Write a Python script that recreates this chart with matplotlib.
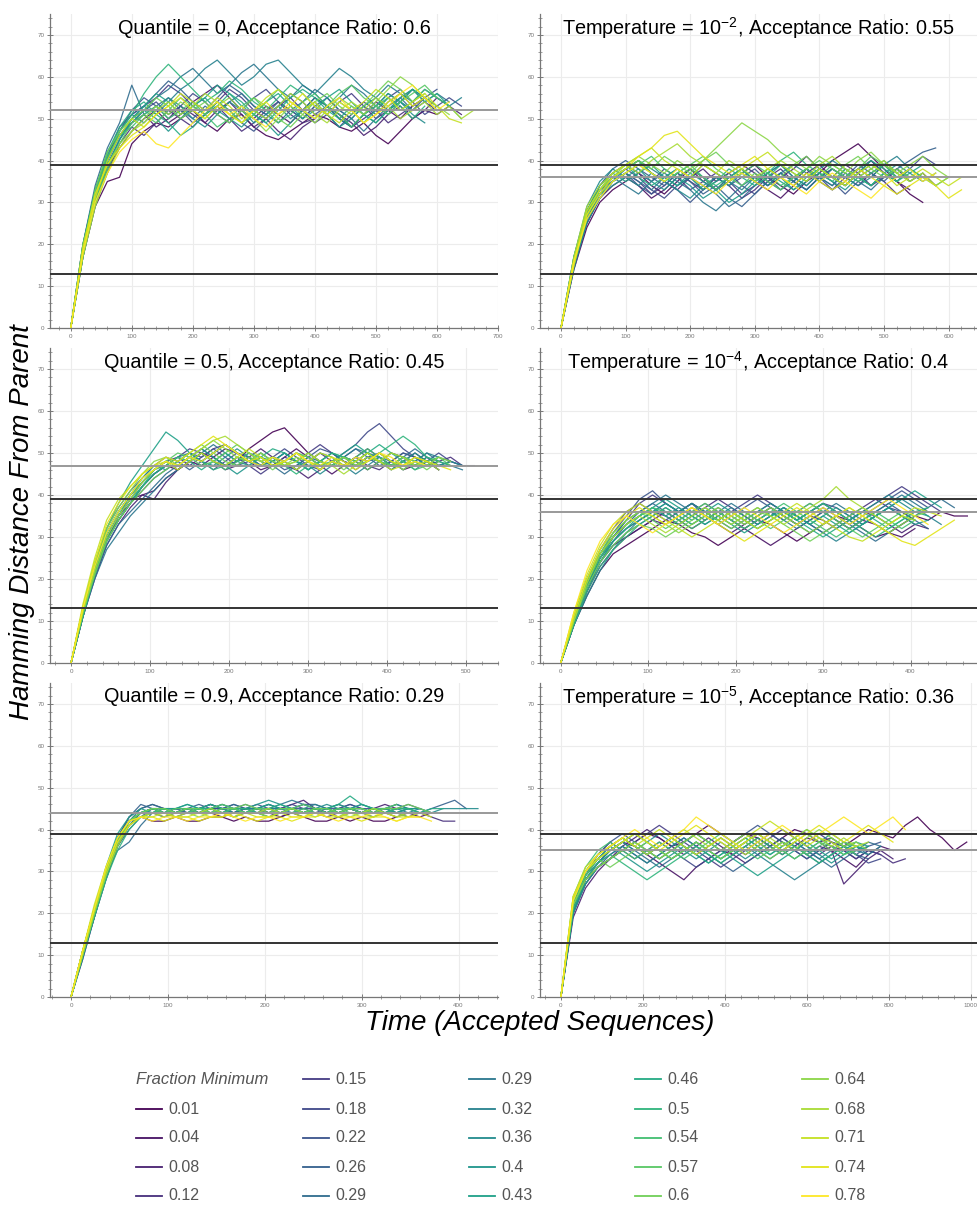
import numpy as np
import matplotlib.pyplot as plt
from matplotlib.ticker import MultipleLocator, AutoMinorLocator
from matplotlib.lines import Line2D

plt.rcParams['font.family'] = ['Liberation Sans', 'DejaVu Sans']
plt.rcParams['mathtext.default'] = 'regular'

# legend labels, one per run (24 runs per panel)
fractions = ['0.01', '0.04', '0.08', '0.12', '0.15', '0.18', '0.22', '0.26',
             '0.29', '0.29', '0.32', '0.36', '0.4', '0.43', '0.46', '0.5',
             '0.54', '0.57', '0.6', '0.64', '0.68', '0.71', '0.74', '0.78']

# hamming distance sampled every 20 accepted sequences
quantile_0 = [
    [0,17,29,35,36,44,47,49,48,50,52,49,47,50,51,48,46,45,47,49,51,50,48,47,49,46,44,47,50,52,51,53],
    [0,18,31,38,43,47,50,52,49,51,54,56,58,55,52,50,53,51,49,52,55,53,50,48,51,54,52,50,53,55],
    [0,19,32,40,46,49,51,48,50,53,51,49,52,54,51,48,50,47,45,48,50,53,51,49,46,48,51,53,50,52,55,53,51],
    [0,18,30,37,44,48,46,49,52,50,48,51,53,50,47,49,52,54,51,49,50,53,51,48,50,52,49,51,53],
    [0,20,33,41,47,51,53,55,58,56,53,51,54,57,55,52,50,53,55,52,49,51,54,56,53,50,52,55,57,54,52],
    [0,17,30,39,45,50,52,54,51,53,56,54,51,49,52,55,57,54,52,50,53,51,48,51,54,52,55,57,54,51,53,55,53],
    [0,19,31,40,47,52,55,53,50,52,49,51,54,52,49,47,50,53,56,54,51,53,50,48,51,53,56,54,52,55,57],
    [0,18,32,41,48,51,53,56,59,57,54,52,55,58,56,53,51,54,52,50,53,55,52,50,53,51,54,56,53,55],
    [0,20,34,43,49,58,51,53,55,52,50,53,51,54,56,53,51,49,52,54,57,55,52,50,47,50,53,55,52,54,56,54],
    [0,17,29,38,45,49,52,55,57,60,62,59,56,58,61,63,60,57,55,58,56,53,55,58,56,53,51,54,57,55,53],
    [0,19,31,40,46,50,53,51,54,57,59,62,64,61,58,60,63,64,61,58,56,59,62,60,57,55,58,56,54,57,55,53,55],
    [0,18,32,42,47,51,49,52,55,53,50,48,51,54,52,49,51,53,50,52,55,53,50,48,51,49,52,54,51,49],
    [0,19,33,41,46,49,52,50,47,50,53,55,52,50,48,51,49,46,49,52,54,51,48,50,53,55,52,54,57,55,52],
    [0,18,30,39,45,50,53,56,54,51,53,55,58,56,53,51,54,56,53,50,52,55,57,54,51,53,56,54,52],
    [0,20,33,42,48,52,54,51,49,46,48,51,53,56,54,51,49,52,55,57,55,52,50,53,51,49,52,55,57,54,56,53],
    [0,17,31,40,47,51,56,60,63,60,57,54,56,59,57,54,52,55,58,56,53,51,54,52,49,52,55,53,50,53],
    [0,19,32,41,46,48,51,53,50,52,54,51,48,50,53,55,52,49,51,54,56,53,51,48,51,53,55,52,54,57,55,53,50],
    [0,18,30,38,44,49,51,49,52,55,53,51,54,52,49,51,54,57,54,52,50,53,56,58,55,53,51,54,56,58,55],
    [0,19,33,42,47,50,52,55,53,50,52,54,51,49,52,55,53,50,48,51,54,56,53,51,53,56,59,57,54,56],
    [0,20,31,39,44,47,50,53,51,54,52,50,53,55,52,50,47,50,53,51,49,52,55,53,51,54,57,60,58,55,53,51],
    [0,17,29,37,43,47,49,52,54,51,53,56,54,51,49,52,50,53,56,54,51,49,52,54,52,55,53,50,52,54,51,53,50,52],
    [0,18,31,40,46,50,48,51,53,56,54,52,55,53,50,52,55,57,54,52,54,51,49,52,54,57,55,52,54,56,53,50,49],
    [0,19,32,39,43,46,48,51,53,55,52,50,53,51,49,52,54,51,53,56,53,51,54,52,49,51,54,56,53,55,52],
    [0,18,30,37,42,45,47,44,43,46,49,52,54,51,53,50,48,51,54,52,50,53,55,52,49,51,53,56,58,55,52,54],
]

# sampled every 20
temp_1e2 = [
    [0,14,24,30,33,35,37,34,32,35,38,36,33,35,37,39,36,34,32,35,37,40,42,44,41,38,35,32,30],
    [0,15,25,31,34,36,34,31,33,36,38,35,33,36,38,35,33,31,34,37,39,36,34,37,40,37,35,33],
    [0,16,27,33,36,38,40,37,35,33,36,38,35,37,39,37,34,36,38,41,38,36,39,37,34,36,38,35,37,34],
    [0,15,26,31,35,37,35,32,34,37,35,33,36,34,31,33,36,38,35,33,36,38,36,34,37,35,32,34],
    [0,16,28,34,37,39,37,35,38,36,33,35,37,35,32,34,37,39,36,38,35,33,36,38,36,39,37],
    [0,15,26,32,36,38,36,33,31,34,36,33,35,37,34,32,35,37,35,38,36,33,35,38,40,37,35,38,41,39],
    [0,17,28,33,35,37,34,32,35,33,30,33,36,34,36,38,35,33,36,34,37,35,32,35,37,39,36,38],
    [0,16,27,34,38,40,38,36,34,37,35,32,34,31,29,32,35,37,35,33,36,38,36,39,37,35,38,40,42,43],
    [0,14,25,31,35,37,35,33,36,38,36,34,32,29,31,34,36,33,35,38,36,34,37,35,33,36,38,36],
    [0,16,27,32,36,34,32,35,37,35,33,30,28,31,34,36,34,37,35,33,36,34,38,36,34,37,35],
    [0,15,25,31,35,38,40,38,36,34,36,39,37,35,33,36,34,37,39,37,35,38,36,34,36,39,41,38,36],
    [0,17,29,35,38,36,34,37,35,33,31,34,36,34,37,35,38,36,33,35,38,40,38,36,34,37,39,37,35,37],
    [0,16,26,32,34,36,38,35,33,36,34,31,33,36,38,35,37,39,36,34,37,35,33,36,38,40,37],
    [0,15,27,33,37,35,37,39,36,34,37,35,33,30,32,35,37,35,33,36,38,36,34,37,39,37,35,37,39],
    [0,16,28,34,37,39,36,34,36,38,36,33,35,38,36,34,36,39,37,35,38,36,34,37,40,38,36,38],
    [0,17,28,33,36,38,40,37,35,37,39,36,34,36,38,35,37,40,42,39,37,35,38,36,34,37,35,38,36,34,36],
    [0,15,26,31,35,37,39,41,38,36,38,36,33,35,37,39,37,34,36,38,36,39,37,35,37,39,36],
    [0,16,27,32,35,37,39,37,35,37,39,41,38,36,34,37,35,33,36,38,40,38,36,38,41,39,37,35,37],
    [0,15,28,33,36,38,40,38,41,39,37,40,42,39,37,35,38,36,39,41,38,36,39,41,38,36,38,36],
    [0,16,27,33,36,39,41,39,37,40,38,40,43,46,49,47,45,42,40,38,41,39,37,40,42,39,37,39,41,38,36],
    [0,17,29,34,37,39,37,40,42,44,41,39,37,40,38,36,38,40,38,36,39,41,38,36,38,40,37,35,37,34,36],
    [0,16,28,33,37,39,41,43,40,38,36,39,37,35,38,40,42,39,37,35,38,36,34,37,39,37,34,36,38,36,34,36],
    [0,15,27,32,36,38,41,43,46,47,44,41,39,37,39,41,38,36,34,37,35,33,35,38,36,34,32,34,36,34,31,33],
    [0,16,26,31,35,37,39,37,35,38,36,34,32,35,37,35,33,36,34,32,35,37,35,33,31,34,36,38,35,37],
]

# sampled every 15
quantile_05 = [
    [0,11,21,29,34,38,42,45,47,46,48,50,49,47,48,51,53,55,56,53,50,48,47,49,48,46,48,50,49,47,48,46],
    [0,12,22,30,35,39,40,41,44,46,48,47,49,51,50,48,46,47,49,51,49,47,45,47,49,48,50,48,46,47,49,47,48],
    [0,11,20,28,33,37,40,39,43,46,48,50,48,46,47,49,51,49,47,46,44,46,48,47,49,51,49,47,48,50,48],
    [0,13,23,31,36,40,43,46,48,49,47,49,51,52,50,48,47,49,48,46,48,50,48,47,49,47,46,48,50,49,47,48,49,47],
    [0,12,22,30,34,38,42,45,47,49,51,50,48,47,49,47,45,47,49,48,50,52,50,48,47,49,48,46,48,47],
    [0,12,21,29,35,39,43,46,48,47,49,48,46,48,50,49,47,49,51,49,47,46,48,50,52,55,57,54,51,49,48,50,48,47,47],
    [0,11,22,30,35,38,41,44,46,48,50,49,51,49,47,48,50,48,46,47,49,51,50,48,47,49,50,48,47,49,48,46],
    [0,13,23,32,37,41,44,47,49,48,46,48,50,52,50,48,49,47,48,50,48,46,48,49,51,49,47,48,50,49,47,48],
    [0,12,21,28,33,36,39,42,45,47,49,51,49,47,48,50,48,47,45,47,49,48,50,48,46,48,49,47,49,51,49,47,48,47],
    [0,11,20,27,31,35,38,41,44,46,48,50,52,50,48,49,47,48,50,48,46,48,47,49,51,50,48,47,49,48,50,48,47,46],
    [0,12,22,29,34,38,42,45,47,49,50,48,50,52,50,48,47,49,48,46,48,50,49,47,45,47,49,48,46,48,50,49,48,47],
    [0,11,21,30,35,40,44,47,46,48,50,48,47,49,51,49,47,48,50,48,47,45,47,49,48,50,49,47,48,46,48],
    [0,12,23,31,36,40,43,46,48,47,49,51,49,47,45,47,49,48,50,48,46,48,50,49,47,49,48,46,48,50,48,47,48],
    [0,13,24,32,38,43,47,51,55,53,50,48,50,52,50,48,49,47,48,50,49,47,48,50,52,50,48,47,49,48,47,49],
    [0,12,22,30,35,39,42,45,47,49,48,46,48,50,48,47,49,51,50,48,46,48,47,49,48,50,52,50,48,47,49,48],
    [0,11,21,29,34,38,42,46,48,47,49,48,46,47,49,48,50,48,47,45,47,48,50,49,47,48,50,52,54,52,49,48,47],
    [0,12,22,31,36,40,43,46,47,49,48,50,48,46,48,50,49,47,48,50,48,46,48,47,49,51,49,47,48,46,47],
    [0,13,23,31,36,40,44,46,48,50,49,47,48,50,52,50,48,49,47,48,50,48,47,49,48,46,48,50,49,47,48,49,47],
    [0,12,21,29,34,38,41,44,46,48,50,52,50,48,47,49,48,46,48,50,49,47,48,46,48,50,48,47,49,48,46,48],
    [0,13,24,32,37,41,45,48,49,47,49,51,53,51,49,48,50,48,47,49,48,46,48,49,47,48,50,48,46,48,47,49,48],
    [0,12,22,30,35,39,43,46,48,47,49,51,53,54,52,50,48,49,47,48,50,48,47,45,47,49,48,50,49,47,48,46],
    [0,14,25,34,39,42,45,47,48,46,48,50,48,47,49,51,49,47,48,46,48,50,49,47,48,50,48,46,47,49,48],
    [0,13,24,33,38,42,45,47,49,48,50,52,54,52,50,48,49,47,48,50,48,47,49,48,46,48,50,48,47,49,48,47,46],
    [0,13,23,31,36,40,44,46,48,47,49,48,50,52,50,48,47,49,48,50,48,46,48,47,49,48,50,49,47,48,47],
]

# sampled every 15
temp_1e4 = [
    [0,9,16,22,26,28,30,32,34,33,31,30,28,30,32,34,33,31,29,31,33,35,34,32,30,31,33,35,34,36,35,35],
    [0,10,18,24,28,30,32,34,36,34,32,34,36,34,32,30,28,30,32,34,36,34,32,34,33,31,30,32],
    [0,9,17,23,27,30,32,34,33,35,37,35,33,31,33,35,37,35,33,35,34,32,34,36,35,33,31,33,32],
    [0,11,19,25,29,32,34,36,35,33,35,37,39,37,35,33,35,37,35,33,31,33,35,37,39,37,35,33],
    [0,10,18,25,30,34,38,40,38,36,38,36,34,36,38,40,38,36,34,36,38,36,34,36,38,40,42,40,38,36],
    [0,11,20,27,32,36,38,36,34,36,38,36,34,32,34,36,38,36,34,36,38,37,35,33,35,37,36,34],
    [0,10,19,26,31,35,39,41,38,36,38,35,33,35,37,39,37,35,33,35,37,35,33,35,37,39,41,39,37],
    [0,9,17,24,29,33,36,38,36,34,36,38,36,34,32,34,36,34,36,38,36,34,32,34,36,38,36,34,32],
    [0,10,18,24,28,31,33,35,37,35,33,35,37,35,33,35,37,35,33,31,33,35,33,31,29,31,33,35,37,39,37],
    [0,11,20,26,30,34,36,38,40,38,36,34,36,38,36,34,36,34,32,34,36,38,36,34,36,38,40,38,36],
    [0,10,18,25,30,33,35,37,35,37,35,33,35,37,35,33,35,37,35,33,31,29,31,33,35,37,39,37,35,33],
    [0,9,16,22,27,31,34,36,38,36,38,36,34,36,34,36,38,36,34,36,38,36,34,36,38,40,38,36],
    [0,10,19,25,29,32,34,36,38,36,34,36,38,36,34,32,34,36,35,33,35,37,35,33,35,37,35,33,34],
    [0,11,19,26,30,33,35,37,39,37,35,33,35,33,31,33,35,37,35,33,35,33,31,33,35,37,39,41,39,37],
    [0,10,18,24,29,32,35,37,35,33,35,37,35,33,35,37,35,36,34,32,30,32,34,36,34,32,34,36,35],
    [0,9,17,23,27,30,33,35,37,35,33,35,34,36,34,32,34,36,34,36,38,36,34,32,30,32,34,36,37],
    [0,10,19,25,30,33,35,37,36,34,32,34,36,34,32,34,36,38,36,34,32,30,32,34,36,34,32,34],
    [0,11,20,26,31,34,36,34,32,34,36,38,36,34,36,34,32,34,36,38,36,34,32,30,32,34,36,35],
    [0,10,18,24,28,31,33,32,30,32,34,36,34,32,34,36,35,33,31,29,31,33,35,37,35,33,35,34],
    [0,11,20,27,31,34,36,35,33,31,33,35,37,35,33,35,37,35,33,31,33,35,37,35,33,31,33,35,36],
    [0,10,19,26,30,33,35,33,31,33,35,37,35,33,35,37,35,33,35,37,39,42,39,37,35,33,35,34],
    [0,12,21,28,33,36,38,36,34,32,30,32,34,36,34,32,34,36,38,36,34,32,30,29,31,33,35,37,36,35],
    [0,11,20,27,32,35,37,35,33,35,37,35,33,31,29,31,33,35,37,35,33,35,37,35,33,31,29,28,30,32,34],
    [0,12,22,29,33,35,33,31,33,35,37,35,33,35,37,35,33,31,33,35,37,35,33,35,37,39,37,35,33],
]

# sampled every 12
quantile_09 = [
    [0,10,19,29,37,42,43,42,42,43,42,42,43,43,42,43,42,42,43,44,43,42,42,43,42,43,42,42,43],
    [0,10,20,30,38,42,44,44,43,44,45,44,44,43,44,45,45,44,43,44,44,45,44,43,44,44,45,44,43,44,43,44],
    [0,11,21,30,38,43,45,46,45,45,44,45,46,45,44,45,45,44,45,46,47,45,44,45,45,44,45,46,45],
    [0,9,19,28,36,41,43,44,44,43,44,44,45,44,43,44,44,43,44,45,44,44,43,44,45,44,43,44,44,43,44,43,42,42],
    [0,10,20,29,37,42,44,45,45,44,45,45,46,45,45,44,45,46,45,45,44,45,45,46,45,44,45,45,44,45],
    [0,10,20,30,37,41,44,45,44,45,45,44,45,45,46,45,44,45,45,46,45,45,44,45,46,45,45,44,45,46,45,44],
    [0,10,19,29,36,40,43,45,44,44,45,44,45,45,44,45,46,45,44,45,45,44,45,45,46,45,44,45,45],
    [0,11,20,30,38,43,46,45,45,44,45,46,45,44,45,46,45,45,44,45,46,46,45,44,45,45,44,45,46,45,44,45,46,47,45],
    [0,10,20,29,35,37,41,44,45,44,45,45,44,45,46,45,45,44,45,45,46,45,44,45,45,44,45,45],
    [0,10,20,30,37,42,45,46,45,45,44,45,45,46,45,44,45,45,46,47,46,45,44,45,45,46,45,44,45,45],
    [0,9,19,28,36,41,44,45,44,45,45,44,45,46,45,45,44,45,45,44,45,46,45,44,45,45,44,45,45,44,45],
    [0,10,20,30,37,42,44,45,45,44,45,45,46,45,44,45,45,46,45,45,44,45,46,45,45,44,45,45,46,45,45,44,45,45,45,45],
    [0,10,20,29,37,42,44,45,44,45,46,45,45,44,45,45,46,47,46,45,44,45,45,44,45,46,45,45,44,45,45],
    [0,11,21,31,39,43,45,44,45,45,46,45,44,45,45,44,45,46,45,45,44,45,45,46,45,44,45,45,44,45],
    [0,10,20,29,37,42,44,45,45,44,45,45,46,45,45,44,45,45,46,45,44,45,45,46,48,46,45,44,45,45,44,45,45],
    [0,10,19,28,35,40,43,44,45,44,44,45,45,44,45,45,44,44,45,45,44,45,45,44,45,45,44,44,45,45,44],
    [0,11,21,30,38,42,44,44,45,44,44,45,44,44,45,44,44,43,44,44,45,44,44,45,44,44,45,44],
    [0,10,20,29,37,42,44,45,44,45,45,44,45,46,45,44,45,45,44,45,46,45,44,45,45,44,45,45,46],
    [0,10,20,30,37,42,44,45,45,44,45,45,44,45,45,46,45,44,45,45,44,45,45,44,45,45,44,45,45,46,45,44],
    [0,11,21,30,37,41,43,44,43,44,44,43,44,44,43,44,44,43,44,45,44,43,44,44,43,44,43,44,44,43],
    [0,10,20,29,36,41,43,44,44,43,44,44,45,44,43,44,44,45,44,44,43,44,44,43,44,44,45,44,43,44,44],
    [0,11,22,31,38,42,43,43,44,43,43,44,43,43,44,44,43,43,44,43,43,44,43,43,44,43,43,44,43,43,44,43],
    [0,11,21,30,37,41,43,43,42,43,43,42,43,43,44,43,42,43,43,42,43,43,44,43,43,42,43,43,42,43,43],
    [0,11,21,31,38,42,43,42,43,43,42,43,43,44,43,42,43,43,42,43,43,44,43,42,43,43,44,43,42,43,43,42],
]

# sampled every 30
temp_1e5 = [
    [0,20,27,31,33,35,37,39,38,36,37,39,41,39,37,39,38,36,38,40,39,37,38,36,38,40,39,38,41,43,40,38,35,37],
    [0,21,28,32,35,37,36,34,32,30,28,31,33,35,34,36,38,36,34,36,38,37,35,33,31,34,36,35],
    [0,19,26,30,33,36,38,40,38,36,34,36,38,36,34,32,34,36,38,36,34,36,35,27,30,33,35,33],
    [0,22,29,33,36,38,36,34,36,38,36,34,36,38,36,34,36,38,40,38,36,34,36,35,33,35,34,32,33],
    [0,21,28,31,33,35,37,39,41,39,37,35,33,31,33,35,37,39,37,35,37,39,37,35,33,35,34],
    [0,20,29,34,37,35,33,35,37,35,33,31,33,35,37,39,37,35,37,35,33,35,37,36,34,32,33],
    [0,22,30,34,37,39,37,35,33,35,37,39,37,35,37,39,41,39,37,35,33,35,37,36,34,36,37],
    [0,21,27,31,34,36,34,32,34,36,38,36,34,32,30,32,34,36,38,36,34,32,34,36,34,33],
    [0,20,28,32,35,37,35,33,31,33,35,37,35,33,35,37,35,33,35,37,35,33,31,33,35,37,36],
    [0,23,30,33,35,37,39,37,35,33,35,37,35,33,35,37,39,37,35,37,35,33,35,37,36,34],
    [0,22,29,32,34,36,34,32,34,36,38,36,34,32,34,36,34,32,30,28,30,32,34,36,35,34,36],
    [0,21,28,32,35,37,35,37,39,37,35,33,35,37,35,33,35,37,35,33,35,37,39,37,35,36],
    [0,23,30,34,36,34,32,30,32,34,36,34,32,34,36,38,36,34,36,38,36,34,32,34,36,35],
    [0,20,27,31,33,35,37,35,33,35,37,39,37,35,33,31,29,31,33,35,37,35,33,35,37,36],
    [0,22,29,33,36,38,36,34,36,38,36,34,32,34,36,38,36,34,36,38,40,38,36,34,36,35],
    [0,21,28,32,34,32,30,28,30,32,34,36,34,32,34,36,38,36,34,36,34,32,34,36,37],
    [0,24,31,35,37,35,33,35,37,35,33,35,37,39,37,35,33,35,37,36,34,36,38,36,34],
    [0,22,29,33,35,37,39,37,35,33,35,37,35,33,35,37,39,37,35,33,35,37,36,34,35],
    [0,23,30,33,31,33,35,37,35,33,35,37,35,33,35,37,35,33,35,37,39,37,35,37,36],
    [0,22,28,31,33,35,37,35,33,35,37,39,37,35,37,39,37,35,37,35,38,40,38,36,37,35],
    [0,23,30,34,36,38,36,34,36,38,40,38,36,38,36,34,36,38,36,38,40,38,36,38,36,37],
    [0,24,31,34,36,38,36,38,40,38,36,34,36,38,36,38,40,42,40,38,36,38,37,35,36],
    [0,24,30,33,35,37,39,37,35,37,39,41,39,37,35,37,39,37,35,37,39,41,39,37,39,41,39,37],
    [0,23,30,34,36,38,40,38,36,38,40,43,41,39,37,35,37,39,41,39,37,39,41,43,41,39,41,43,40],
]

titles = ['Quantile = 0, Acceptance Ratio: 0.6',
          'Temperature = 10$^{-2}$, Acceptance Ratio: 0.55',
          'Quantile = 0.5, Acceptance Ratio: 0.45',
          'Temperature = 10$^{-4}$, Acceptance Ratio: 0.4',
          'Quantile = 0.9, Acceptance Ratio: 0.29',
          'Temperature = 10$^{-5}$, Acceptance Ratio: 0.36']
runs = [quantile_0, temp_1e2, quantile_05, temp_1e4, quantile_09, temp_1e5]
steps = [20, 20, 15, 15, 12, 30]
plateau = [52, 36, 47, 36, 44, 35]
thresholds = [13, 39]

W, H = 977, 1205
fig = plt.figure(figsize=(W / 100, H / 100), dpi=100)

# panel boxes in pixels: left, top, right, bottom
cols = [(50, 498), (540, 977)]
rows = [(14, 328), (348, 663), (683, 997)]
xlims = [(-34, 700), (-32.5, 644), (-26.6, 540), (-23.7, 476), (-21.7, 440.7), (-51, 1015)]
xmajor = [100, 100, 100, 100, 100, 200]

colors = plt.cm.viridis(np.linspace(0, 1, len(fractions)))

for k in range(6):
    l, r = cols[k % 2]
    t, b = rows[k // 2]
    ax = fig.add_axes([l / W, 1 - b / H, (r - l) / W, (b - t) / H])
    for i, vals in enumerate(runs[k]):
        x = np.arange(len(vals)) * steps[k]
        ax.plot(x, vals, color=colors[i], lw=0.9, alpha=0.9)
    for yv in thresholds:
        ax.axhline(yv, color='#333333', lw=1.4, zorder=5)
    ax.axhline(plateau[k], color='#999999', lw=1.4, zorder=5)

    ax.set_xlim(*xlims[k])
    ax.set_ylim(0, 75)
    ax.xaxis.set_major_locator(MultipleLocator(xmajor[k]))
    ax.xaxis.set_minor_locator(AutoMinorLocator(5))
    ax.yaxis.set_major_locator(MultipleLocator(10))
    ax.yaxis.set_minor_locator(AutoMinorLocator(5))
    ax.grid(True, which='major', color='#ececec', lw=0.8)
    ax.set_axisbelow(True)
    for s in ['top', 'right']:
        ax.spines[s].set_visible(False)
    for s in ['left', 'bottom']:
        ax.spines[s].set_color('#777777')
        ax.spines[s].set_linewidth(0.9)
    ax.tick_params(which='major', direction='inout', length=4, width=0.6,
                   color='#666666', labelsize=4.5, labelcolor='#777777', pad=2)
    ax.tick_params(which='minor', direction='inout', length=2.5, width=0.5, color='#777777')
    ax.text(0.5, 1 - 14 / (b - t), titles[k], transform=ax.transAxes,
            ha='center', va='center', fontsize=14.3, color='black')

fig.text(22 / W, 1 - 522 / H, 'Hamming Distance From Parent', rotation=90,
         ha='center', va='center', fontsize=20, style='italic')
fig.text(540 / W, 1 - 1023 / H, 'Time (Accepted Sequences)',
         ha='center', va='center', fontsize=20, style='italic')

# legend, laid out in 5 columns with the title in the first slot
leg_x = [136, 303, 469, 635, 802]
leg_y = [1079, 1109, 1138, 1167, 1196]
fig.text(leg_x[0] / W, 1 - leg_y[0] / H, 'Fraction Minimum', ha='left', va='center',
         fontsize=12, style='italic', color='#555555')
for i, lab in enumerate(fractions):
    slot = i + 1
    c, rr = slot // 5, slot % 5
    x0 = leg_x[c]
    yy = 1 - leg_y[rr] / H
    fig.add_artist(Line2D([x0 / W, (x0 + 26) / W], [yy, yy], transform=fig.transFigure,
                          color=colors[i], lw=1.3))
    fig.text((x0 + 32) / W, yy, lab, ha='left', va='center', fontsize=11.5, color='#555555')

fig.savefig('out.png', dpi=100)
